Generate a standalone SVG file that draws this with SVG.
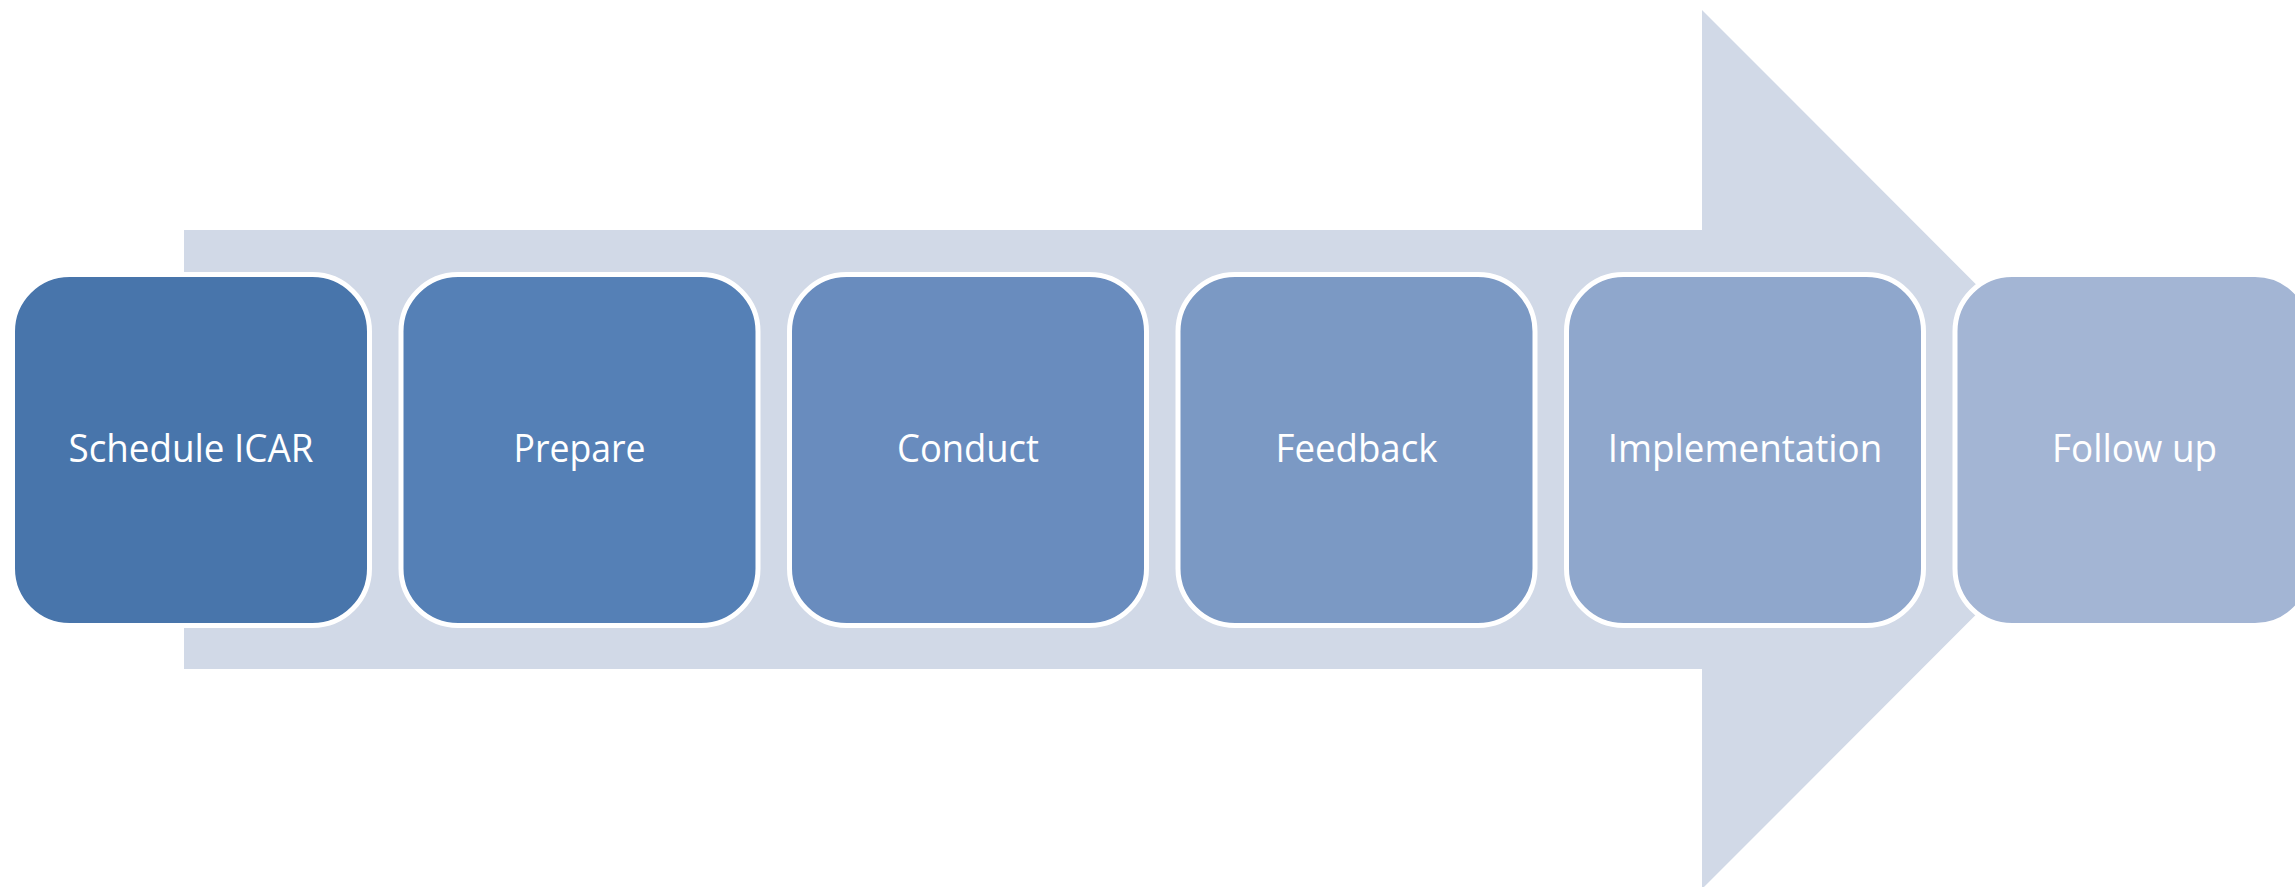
<svg xmlns="http://www.w3.org/2000/svg" width="2295" height="887" viewBox="0 0 2295 887">
  <style>
    .step { stroke: #FFFFFF; stroke-width: 5; }
    .label { font-family: "Open Sans", "Liberation Sans", sans-serif; font-size: 37.5px; fill: #FFFFFF; text-anchor: middle; }
  </style>
  <rect width="2295" height="887" fill="#FFFFFF"/>
  <!-- background block arrow -->
  <g id="connectors">
    <polygon points="184,230 1702,230 1702,10 2141,449.5 1702,889 1702,669 184,669" fill="#D1D9E7"/>
  </g>
  <g id="step1">
    <rect class="step" x="12.5" y="274.5" width="357" height="351" rx="57" ry="57" fill="#4875AB"/>
    <text class="label" x="191" y="462" textLength="245" lengthAdjust="spacingAndGlyphs">Schedule ICAR</text>
  </g>
  <g id="step2">
    <rect class="step" x="401" y="274.5" width="357" height="351" rx="57" ry="57" fill="#5580B6"/>
    <text class="label" x="579.5" y="462" textLength="132" lengthAdjust="spacingAndGlyphs">Prepare</text>
  </g>
  <g id="step3">
    <rect class="step" x="789.5" y="274.5" width="357" height="351" rx="57" ry="57" fill="#698CBE"/>
    <text class="label" x="968" y="462" textLength="142" lengthAdjust="spacingAndGlyphs">Conduct</text>
  </g>
  <g id="step4">
    <rect class="step" x="1178" y="274.5" width="357" height="351" rx="57" ry="57" fill="#7B99C4"/>
    <text class="label" x="1356.5" y="462" textLength="162" lengthAdjust="spacingAndGlyphs">Feedback</text>
  </g>
  <g id="step5">
    <rect class="step" x="1566.5" y="274.5" width="357" height="351" rx="57" ry="57" fill="#8FA7CC"/>
    <text class="label" x="1745" y="462" textLength="274.5" lengthAdjust="spacingAndGlyphs">Implementation</text>
  </g>
  <g id="step6">
    <rect class="step" x="1955" y="274.5" width="357" height="351" rx="57" ry="57" fill="#A3B5D4"/>
    <text class="label" x="2134.5" y="462" textLength="165" lengthAdjust="spacingAndGlyphs">Follow up</text>
  </g>
</svg>
